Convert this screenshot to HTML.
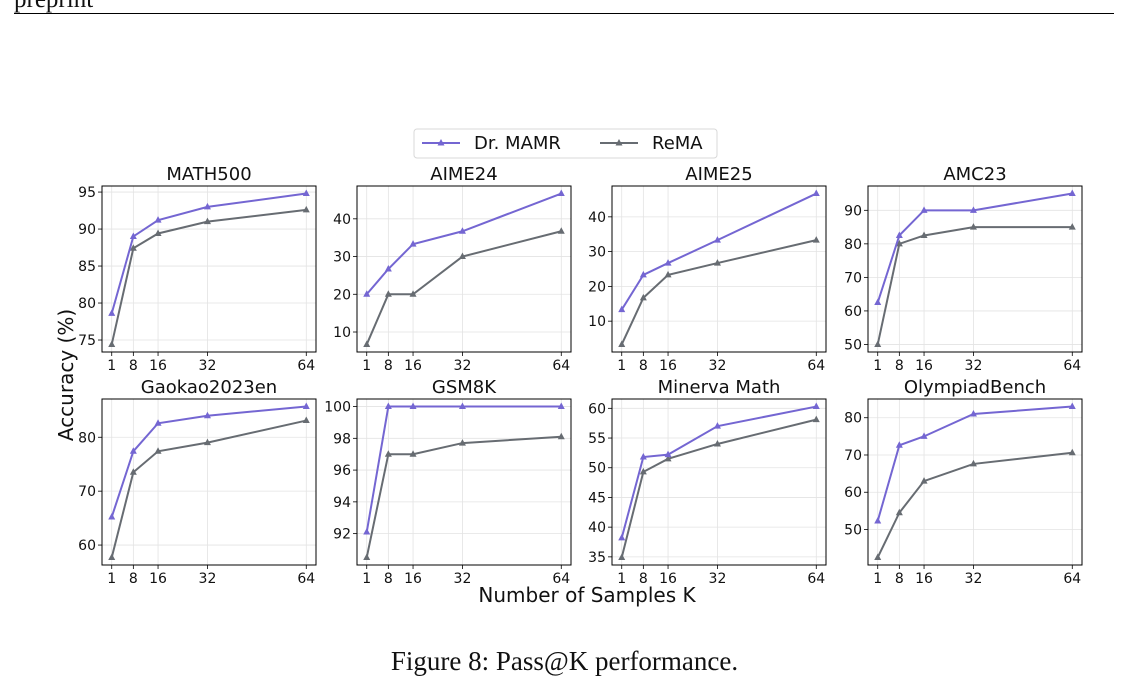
<!DOCTYPE html>
<html><head><meta charset="utf-8">
<style>
body{margin:0;background:#fff;width:1129px;height:685px;overflow:hidden;position:relative;font-family:"DejaVu Sans","Liberation Sans",sans-serif}
#hdr{position:absolute;left:14px;top:-14px;font-family:"Liberation Serif",serif;font-size:25px;color:#111}
#rule{position:absolute;left:14px;top:13px;width:1100px;height:1px;background:#000}
#cap{position:absolute;left:0;width:1129px;top:646px;text-align:center;font-family:"Liberation Serif",serif;font-size:27px;color:#111}
</style></head><body>
<div id="hdr">preprint</div>
<div id="rule"></div>
<svg id="chart" width="1129" height="685" style="position:absolute;left:0;top:0"></svg>
<div id="cap">Figure 8: Pass@K performance.</div>
<script>
const kValues=[1,8,16,32,64];
const titles=["MATH500","AIME24","AIME25","AMC23","Gaokao2023en","GSM8K","Minerva Math","OlympiadBench"];
const drMamr=[[78.6,89,91.2,93,94.8],[20,26.7,33.3,36.7,46.7],[13.3,23.3,26.7,33.3,46.7],[62.5,82.5,90,90,95],[65.2,77.4,82.6,84,85.7],[92.1,100,100,100,100],[38.2,51.8,52.2,57,60.3],[52.3,72.6,75,81,83]];
const rema=[[74.4,87.4,89.4,91,92.6],[6.7,20,20,30,36.7],[3.3,16.7,23.3,26.7,33.3],[50,80,82.5,85,85],[57.7,73.5,77.4,79,83.1],[90.5,97,97,97.7,98.1],[34.9,49.3,51.5,54,58.1],[42.5,54.5,63,67.6,70.6]];
const yTicks=[[75,80,85,90,95],[10,20,30,40],[10,20,30,40],[50,60,70,80,90],[60,70,80],[92,94,96,98,100],[35,40,45,50,55,60],[50,60,70,80]];
const NS="http://www.w3.org/2000/svg";
const svg=document.getElementById('chart');
function mk(tag,attrs,parent){const e=document.createElementNS(NS,tag);for(const k in attrs)e.setAttribute(k,attrs[k]);(parent||svg).appendChild(e);return e;}
const colL=[102,357,612,868],W=214,rowT=[186,399],H=166;
const PURPLE="#7466d2",GRAY="#676c72";
for(let i=0;i<8;i++){
  const x0=colL[i%4],y0=rowT[Math.floor(i/4)];
  const g=mk('g',{});
  
  
  const all=drMamr[i].concat(rema[i]);
  let mn=Math.min(...all),mx=Math.max(...all),pad=(mx-mn)*0.05;mn-=pad;mx+=pad;
  const xs=v=>x0+(v-(-2.15))/69.3*W;
  const ys=v=>y0+H-(v-mn)/(mx-mn)*H;
  kValues.forEach(k=>{mk('line',{x1:xs(k),x2:xs(k),y1:y0,y2:y0+H,stroke:'#e3e3e3','stroke-width':0.8},g);
    const t=mk('text',{x:xs(k),y:y0+H+18,'text-anchor':'middle','font-size':14,fill:'#111'},g);t.textContent=k;
    mk('line',{x1:xs(k),x2:xs(k),y1:y0+H,y2:y0+H+4,stroke:'#000','stroke-width':0.8},g);});
  yTicks[i].forEach(v=>{const y=ys(v);mk('line',{x1:x0,x2:x0+W,y1:y,y2:y,stroke:'#e3e3e3','stroke-width':0.8},g);
    mk('line',{x1:x0-4,x2:x0,y1:y,y2:y,stroke:'#000','stroke-width':0.8},g);
    const t=mk('text',{x:x0-6,y:y+5,'text-anchor':'end','font-size':14,fill:'#111'},g);t.textContent=v;});
  [[rema[i],GRAY,'rema'],[drMamr[i],PURPLE,'dr-mamr']].forEach(([d,c,n])=>{
    const pl=mk('polyline',{points:d.map((v,j)=>xs(kValues[j])+','+ys(v)).join(' '),fill:'none',stroke:c,'stroke-width':2},g);
    
    d.forEach((v,j)=>{const cx=xs(kValues[j]),cy=ys(v);mk('polygon',{points:`${cx},${cy-4} ${cx-3.5},${cy+2.5} ${cx+3.5},${cy+2.5}`,fill:c},g);});
  });
  mk('rect',{x:x0,y:y0,width:W,height:H,fill:'none',stroke:'#000','stroke-width':1},g);
  const tt=mk('text',{x:x0+W/2,y:y0-6,'text-anchor':'middle','font-size':18,fill:'#111'},g);tt.textContent=titles[i];
}
const yl=mk('text',{x:0,y:0,transform:'translate(73,375) rotate(-90)','text-anchor':'middle','font-size':20,fill:'#111'});yl.textContent='Accuracy (%)';

const xl=mk('text',{x:587,y:602,'text-anchor':'middle','font-size':20,fill:'#111'});xl.textContent='Number of Samples K';

const lg=mk('g',{});
mk('rect',{x:414,y:129,width:303,height:29,rx:3,fill:'#fff',stroke:'#d8d8d8'},lg);
[[PURPLE,'Dr. MAMR',422],[GRAY,'ReMA',600]].forEach(([c,n,x])=>{
  mk('line',{x1:x,x2:x+38,y1:143,y2:143,stroke:c,'stroke-width':2},lg);
  mk('polygon',{points:`${x+19},${139} ${x+15.5},${145.5} ${x+22.5},${145.5}`,fill:c},lg);
  const t=mk('text',{x:x+52,y:149,'font-size':18,fill:'#111'},lg);t.textContent=n;
});
</script>
</body></html>
